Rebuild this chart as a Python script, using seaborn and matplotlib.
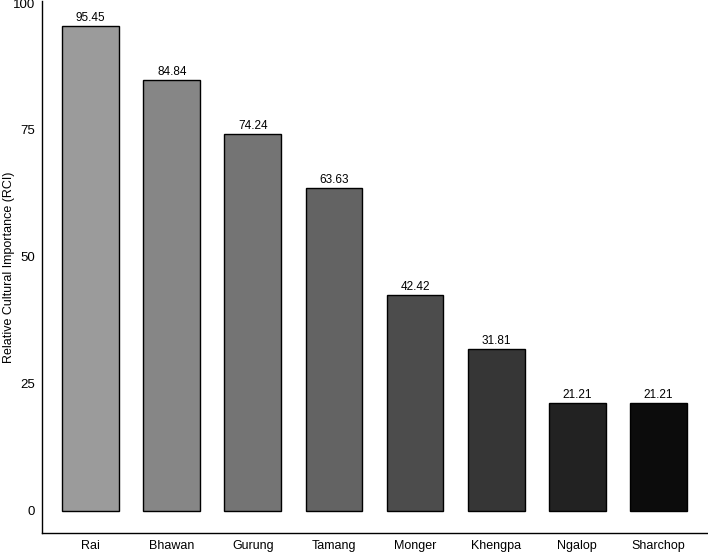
import matplotlib
matplotlib.use("Agg")
import matplotlib.pyplot as plt
import seaborn as sns
import pandas as pd

groups = ["Rai", "Bhawan", "Gurung", "Tamang", "Monger", "Khengpa", "Ngalop", "Sharchop"]
rci = [95.45, 84.84, 74.24, 63.63, 42.42, 31.81, 21.21, 21.21]
greys = ["#9b9b9b", "#868686", "#747474", "#636363", "#4c4c4c", "#363636", "#222222", "#0c0c0c"]

df = pd.DataFrame({"group": groups, "rci": rci})

sns.set_style("white")
plt.rcParams["font.family"] = ["Liberation Sans", "DejaVu Sans"]

fig = plt.figure(figsize=(7.08, 5.53), dpi=100)
ax = fig.add_axes([42 / 708, 1 - 533 / 553, 665 / 708, 532 / 553])

sns.barplot(data=df, x="group", y="rci", hue="group", palette=greys,
            order=groups, hue_order=groups, legend=False,
            width=0.7, edgecolor="black", linewidth=1, saturation=1, ax=ax)

for i, v in enumerate(rci):
    ax.text(i, v + 0.4, f"{v:.2f}", ha="center", va="bottom", fontsize=8.5, color="black")

ax.set_xlim(-0.6, 7.6)
ax.set_ylim(-4.4, 100.4)
ax.set_yticks([0, 25, 50, 75, 100])
ax.set_xlabel("")
ax.set_ylabel("Relative Cultural Importance (RCI)", fontsize=9, color="black")
ax.yaxis.set_label_coords(-0.041, 0.5)
ax.tick_params(axis="both", direction="out", length=3, width=0.8, colors="black",
               labelsize=9.5, pad=2)
ax.tick_params(axis="x", labelsize=9, pad=2)

sns.despine(ax=ax)
for s in ["left", "bottom"]:
    ax.spines[s].set_color("black")
    ax.spines[s].set_linewidth(1)

fig.savefig("out.png", dpi=100)
